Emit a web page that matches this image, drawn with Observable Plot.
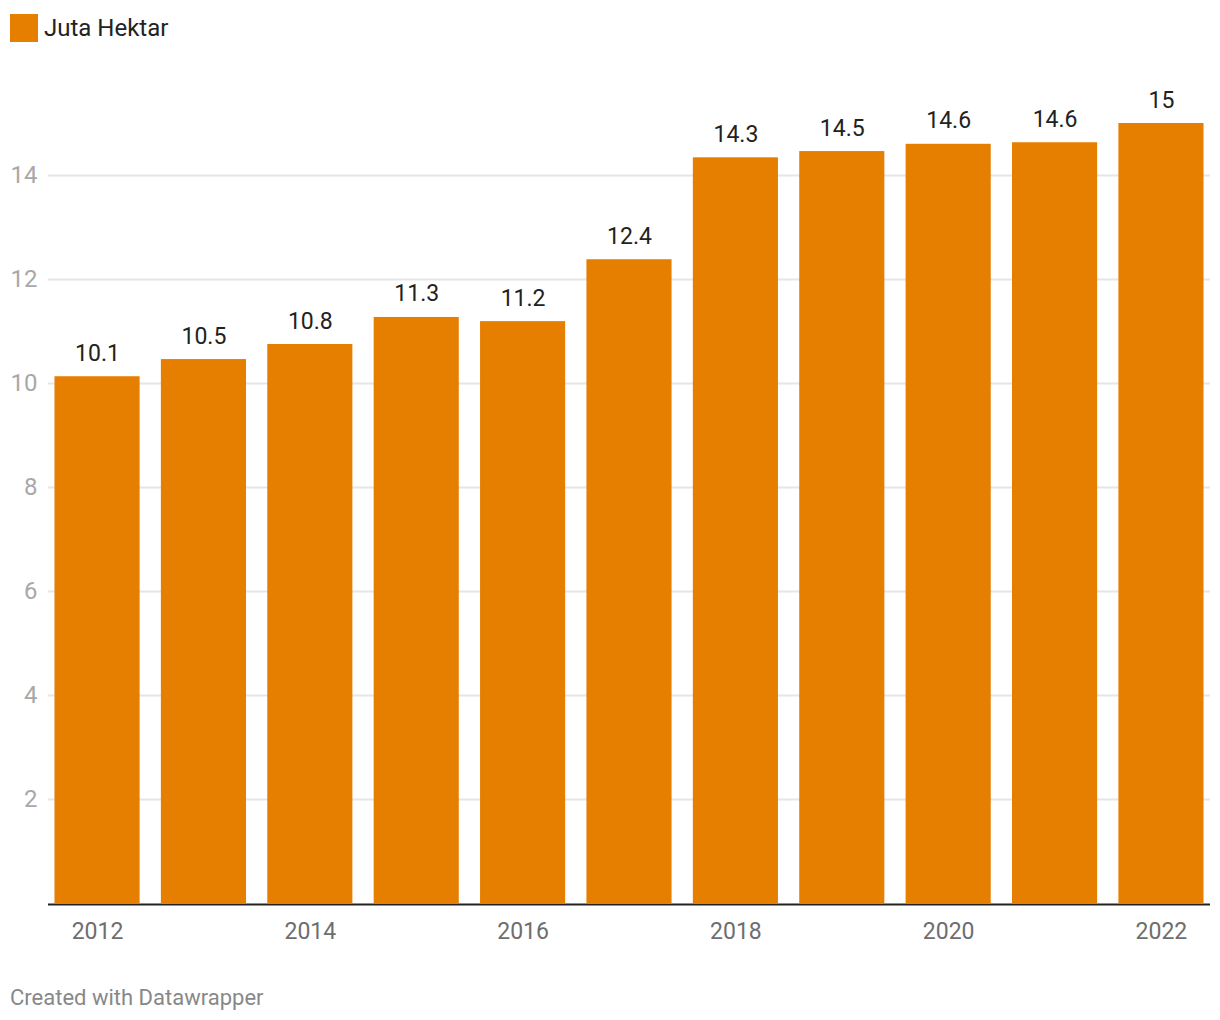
<!DOCTYPE html>
<html>
<head>
<meta charset="utf-8">
<script src="https://cdn.jsdelivr.net/npm/d3@7"></script>
<script src="https://cdn.jsdelivr.net/npm/@observablehq/plot@0.6"></script>
<style>
  html, body { margin: 0; padding: 0; background: #fff; }
  body { width: 1220px; height: 1020px; position: relative; font-family: Roboto, "Noto Sans", sans-serif; }
  #legend-swatch { position: absolute; left: 10px; top: 14px; width: 28px; height: 28px; background: #e67e00; }
  #legend-text { position: absolute; left: 44px; top: 16px; font-size: 24px; line-height: 24px; color: #222; }
  #chart { position: absolute; left: 0; top: 60px; }
  #footer { position: absolute; left: 10px; top: 987px; font-size: 22px; line-height: 22px; color: #888; }
</style>
</head>
<body>
<div id="legend-swatch"></div>
<div id="legend-text">Juta Hektar</div>
<div id="chart"></div>
<div id="footer">Created with Datawrapper</div>
<script>
const years = [2012, 2013, 2014, 2015, 2016, 2017, 2018, 2019, 2020, 2021, 2022];
const values = [10.13, 10.46, 10.75, 11.27, 11.19, 12.38, 14.34, 14.46, 14.6, 14.63, 15.0];
const yTicks = [2, 4, 6, 8, 10, 12, 14];
const xTicks = [2012, 2014, 2016, 2018, 2020, 2022];

const data = years.map((year, i) => ({year, value: values[i]}));
const fmt = d3.format(".3~r");

const chart = Plot.plot({
  width: 1220,
  height: 900,
  marginLeft: 48,
  marginRight: 10,
  marginTop: 11,
  marginBottom: 57,
  style: {fontFamily: "Roboto, sans-serif", background: "transparent", overflow: "visible"},
  x: {type: "band", domain: years, paddingInner: 0.2, paddingOuter: 0.061, round: false},
  y: {domain: [0, 16]},
  marks: [
    Plot.ruleY(yTicks, {stroke: "#e6e6e6", strokeWidth: 2}),
    Plot.barY(data, {x: "year", y: "value", fill: "#e67e00"}),
    Plot.ruleY([0], {stroke: "#222", strokeWidth: 2, dy: 1}),
    Plot.text(data, {x: "year", y: "value", text: d => fmt(d.value), lineAnchor: "bottom", dy: -16, fontSize: 23, fill: "#222"}),
    Plot.axisY(yTicks, {tickSize: 0, tickPadding: 11, fontSize: 24, color: "#a8a8a8", label: null, tickFormat: d => String(d)}),
    Plot.axisX(xTicks, {tickSize: 0, tickPadding: 19, fontSize: 23, color: "#6e6e6e", tickFormat: d => String(d), label: null})
  ]
});
document.getElementById("chart").appendChild(chart);
</script>
</body>
</html>
